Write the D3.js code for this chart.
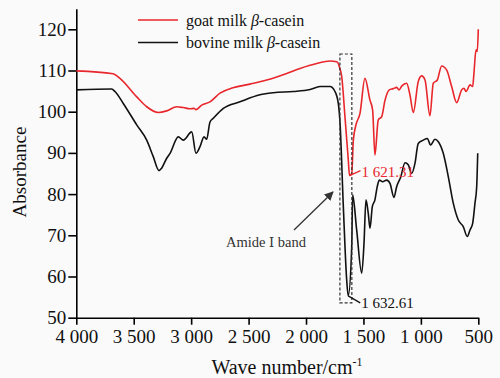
<!DOCTYPE html>
<html>
<head>
<meta charset="utf-8">
<script src="https://cdn.jsdelivr.net/npm/d3@7"></script>
<style>
  body { margin: 0; background: #fafafa; }
  svg { display: block; font-family: "Liberation Serif", "Times New Roman", serif; }
</style>
</head>
<body>
<div id="chart"></div>
<script>
// goat milk beta-casein spectrum (wave number, absorbance)
var goatWave = [4000, 3680, 3620, 3474, 3387, 3286, 3213, 3126, 3068, 3010, 2975, 2958, 2908, 2836,
  2749, 2636, 2488, 2342, 2168, 2052, 1907, 1791, 1733, 1719, 1710, 1689, 1661, 1632, 1621.31, 1602,
  1588, 1565, 1530, 1487, 1443, 1420, 1400, 1371, 1341, 1312, 1275, 1240, 1211, 1190, 1167, 1124,
  1095, 1066, 1023, 993, 964, 921, 892, 857, 819, 775, 732, 688, 645, 625, 607, 572, 549, 538, 520,
  509, 500];
var goatAbs = [109.9, 109.2, 108.1, 103.6, 101.2, 99.8, 100.2, 101.2, 101.0, 100.7, 100.8, 100.5, 101.6, 102.4,
  104.5, 105.8, 106.7, 107.7, 109.3, 110.5, 111.7, 112.3, 112.1, 111.7, 110.9, 108.5, 98.8, 88.3, 84.5, 85.0,
  93.1, 96.8, 99.6, 108.1, 102.8, 100.4, 89.5, 98.0, 98.8, 102.8, 105.3, 105.6, 105.9, 105.3, 106.2, 106.9,
  104.1, 99.8, 107.3, 108.7, 107.7, 99.0, 106.9, 107.7, 111.1, 110.1, 106.1, 102.2, 105.3, 105.7, 104.9, 106.5, 106.1, 109.3, 115.0,
  114.6, 120.0];

// bovine milk beta-casein spectrum
var bovineWave = [4000, 3692, 3663, 3591, 3474, 3387, 3330, 3280, 3257, 3213, 3184, 3112, 3068, 2995,
  2958, 2923, 2888, 2865, 2836, 2807, 2720, 2575, 2401, 2285, 2111, 1965, 1878, 1791, 1748, 1719, 1704,
  1675, 1646, 1632.61, 1602, 1594, 1559, 1515, 1495, 1478, 1458, 1443, 1423, 1400, 1380, 1362, 1333,
  1298, 1269, 1234, 1211, 1176, 1138, 1110, 1080, 1051, 1023, 979, 944, 915, 877, 848, 805, 761, 718,
  674, 631, 596, 572, 549, 529, 514, 505];
var bovineAbs = [105.3, 105.5, 104.9, 102.0, 96.8, 93.1, 89.1, 85.7, 86.3, 88.7, 89.9, 93.9, 93.1, 95.1,
  89.9, 91.5, 93.9, 93.3, 97.5, 98.4, 100.8, 102.4, 104.1, 104.6, 104.9, 105.4, 106.1, 106.1, 104.9, 102.0, 97.3,
  76.9, 59.2, 55.3, 67.2, 79.8, 71.3, 60.8, 68.1, 78.6, 75.3, 71.7, 76.9, 78.6, 81.8, 83.4, 83.0,
  83.4, 82.6, 79.2, 81.8, 84.1, 87.6, 87.1, 85.0, 87.5, 92.3, 93.1, 93.5, 91.9, 93.3, 92.7, 89.9, 84.2, 77.8,
  73.7, 72.1, 69.7, 71.3, 72.9, 77.8, 81.8, 89.9];

var xTicks = [4000, 3500, 3000, 2500, 2000, 1500, 1000, 500];
var yTicks = [50, 60, 70, 80, 90, 100, 110, 120];
var seriesNames = ["goat milk ", "bovine milk "];
var seriesColors = ["#e8262b", "#111111"];

// amide I band box [wave from, wave to, abs low, abs high]
var amideBox = [1705, 1601, 53.6, 114];

var width = 500, height = 378;
var margin = {top: 8.7, right: 21.7, bottom: 60.3, left: 76.3};

var svg = d3.select("#chart").append("svg")
  .attr("width", width)
  .attr("height", height);

var x = d3.scaleLinear()
  .domain([4000, 500])
  .range([margin.left, width - margin.right]);

var y = d3.scaleLinear()
  .domain([50, 125])
  .range([height - margin.bottom, margin.top]);

var fmt = function(d) {
  return d >= 1000 ? Math.floor(d / 1000) + " " + d3.format("03d")(d % 1000) : d;
};

var xAxis = svg.append("g")
  .attr("transform", "translate(0," + (height - margin.bottom) + ")")
  .call(d3.axisBottom(x).tickValues(xTicks).tickFormat(fmt).tickSize(7).tickSizeOuter(0).tickPadding(5));

var yAxis = svg.append("g")
  .attr("transform", "translate(" + margin.left + ",0)")
  .call(d3.axisLeft(y).tickValues(yTicks).tickSize(8).tickSizeOuter(0).tickPadding(2));

svg.selectAll(".domain").attr("stroke", "#000").attr("stroke-width", 1.6);
svg.selectAll(".tick line").attr("stroke", "#000").attr("stroke-width", 1.6);
svg.selectAll(".tick text")
  .attr("font-family", "Liberation Serif, serif")
  .attr("font-size", 19)
  .attr("fill", "#111");

// axis titles
svg.append("text")
  .attr("transform", "translate(26,172) rotate(-90)")
  .attr("text-anchor", "middle")
  .attr("font-size", 19)
  .attr("fill", "#111")
  .text("Absorbance");

var xt = svg.append("text")
  .attr("x", 287)
  .attr("y", 374)
  .attr("text-anchor", "middle")
  .attr("font-size", 20)
  .attr("fill", "#111");
xt.append("tspan").text("Wave number/cm");
xt.append("tspan").attr("font-size", 12).attr("dy", -8).text("-1");

// spectra
var line = d3.line()
  .x(d => x(d[0]))
  .y(d => y(d[1]))
  .curve(d3.curveMonotoneX);

var goat = d3.zip(goatWave, goatAbs);
var bovine = d3.zip(bovineWave, bovineAbs);

svg.append("path")
  .datum(bovine)
  .attr("fill", "none")
  .attr("stroke", seriesColors[1])
  .attr("stroke-width", 1.6)
  .attr("stroke-linejoin", "round")
  .attr("d", line);

svg.append("path")
  .datum(goat)
  .attr("fill", "none")
  .attr("stroke", seriesColors[0])
  .attr("stroke-width", 1.6)
  .attr("stroke-linejoin", "round")
  .attr("d", line);

// dashed box round the amide I band
svg.append("rect")
  .attr("x", x(amideBox[0]))
  .attr("y", y(amideBox[3]))
  .attr("width", x(amideBox[1]) - x(amideBox[0]))
  .attr("height", y(amideBox[2]) - y(amideBox[3]))
  .attr("fill", "none")
  .attr("stroke", "#333")
  .attr("stroke-width", 1.2)
  .attr("stroke-dasharray", "3,2");

// peak labels
var goatMin = goat[28], bovineMin = bovine[33];

svg.append("line")
  .attr("x1", x(goatMin[0])).attr("y1", y(goatMin[1]))
  .attr("x2", x(goatMin[0]) + 11).attr("y2", y(goatMin[1]) - 5)
  .attr("stroke", seriesColors[0]).attr("stroke-width", 1.3);
svg.append("text")
  .attr("x", x(goatMin[0]) + 12)
  .attr("y", y(goatMin[1]) + 1.5)
  .attr("font-size", 15)
  .attr("fill", seriesColors[0])
  .text("1 621.31");

svg.append("line")
  .attr("x1", x(bovineMin[0])).attr("y1", y(bovineMin[1]))
  .attr("x2", x(bovineMin[0]) + 12).attr("y2", y(bovineMin[1]) + 7)
  .attr("stroke", "#111").attr("stroke-width", 1.3);
svg.append("text")
  .attr("x", x(bovineMin[0]) + 13)
  .attr("y", y(bovineMin[1]) + 12)
  .attr("font-size", 15)
  .attr("fill", "#111")
  .text("1 632.61");

// amide I arrow
svg.append("defs").append("marker")
  .attr("id", "arrow")
  .attr("viewBox", "0 0 10 10")
  .attr("refX", 9).attr("refY", 5)
  .attr("markerWidth", 7).attr("markerHeight", 7)
  .attr("orient", "auto")
  .append("path")
  .attr("d", "M0,0L10,5L0,10z")
  .attr("fill", "#333");

svg.append("line")
  .attr("x1", 294).attr("y1", 230)
  .attr("x2", 333).attr("y2", 192)
  .attr("stroke", "#333")
  .attr("stroke-width", 1.3)
  .attr("marker-end", "url(#arrow)");

var am = svg.append("text")
  .attr("x", 226)
  .attr("y", 247)
  .attr("font-size", 14.5)
  .attr("fill", "#333");
am.append("tspan").text("Amide ");
am.append("tspan").attr("font-family", "DejaVu Serif, serif").attr("font-size", 13).text("\u2160");
am.append("tspan").text(" band");

// legend
var legend = svg.append("g");
seriesNames.forEach(function(name, i) {
  var ly = 20 + i * 22.5;
  legend.append("line")
    .attr("x1", 138).attr("x2", 178)
    .attr("y1", ly).attr("y2", ly)
    .attr("stroke", seriesColors[i])
    .attr("stroke-width", 1.6);
  var t = legend.append("text")
    .attr("x", 186)
    .attr("y", ly + 5.5)
    .attr("font-size", 16)
    .attr("fill", "#111");
  t.append("tspan").text(name);
  t.append("tspan").attr("font-style", "italic").text("\u03b2");
  t.append("tspan").text("-casein");
});
</script>
</body>
</html>
